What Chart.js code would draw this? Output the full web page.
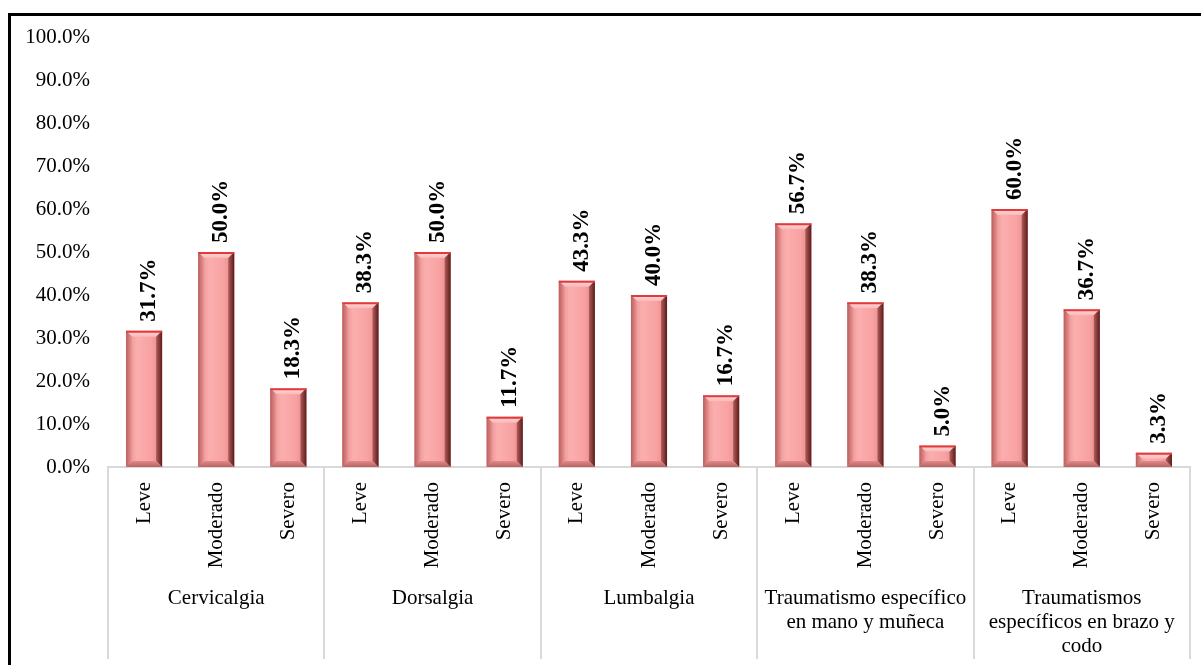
<!DOCTYPE html>
<html>
<head>
<meta charset="utf-8">
<script src="https://cdn.jsdelivr.net/npm/chart.js@4/dist/chart.umd.min.js"></script>
<style>
  html, body { margin: 0; padding: 0; background: #fff; }
  #wrap { position: relative; width: 1201px; height: 665px; }
</style>
</head>
<body>
<div id="wrap"><canvas id="chart"></canvas></div>
<script>
const subLabels = ["Leve", "Moderado", "Severo"];
const groups = [
  ["Cervicalgia"],
  ["Dorsalgia"],
  ["Lumbalgia"],
  ["Traumatismo específico", "en mano y muñeca"],
  ["Traumatismos", "específicos en brazo y", "codo"]
];
const values = [
  31.7, 50.0, 18.3,
  38.3, 50.0, 11.7,
  43.3, 40.0, 16.7,
  56.7, 38.3, 5.0,
  60.0, 36.7, 3.3
];
const yTicks = [0, 10, 20, 30, 40, 50, 60, 70, 80, 90, 100];

const labels = [];
groups.forEach(() => subLabels.forEach(s => labels.push(s)));

const serif = "'Liberation Serif', 'Times New Roman', serif";

// black frame on the top and left edge
const framePlugin = {
  id: "frame",
  beforeDraw(chart) {
    const ctx = chart.ctx;
    ctx.save();
    ctx.strokeStyle = "#000";
    ctx.lineWidth = 3;
    ctx.beginPath();
    ctx.moveTo(9.5, 665);
    ctx.lineTo(9.5, 14.5);
    ctx.lineTo(1201, 14.5);
    ctx.stroke();
    ctx.restore();
  }
};

// bevelled bars + rotated value labels
const bevelPlugin = {
  id: "bevel",
  afterDatasetsDraw(chart) {
    const ctx = chart.ctx;
    const meta = chart.getDatasetMeta(0);
    meta.data.forEach((bar, i) => {
      const w = bar.width;
      const l = bar.x - w / 2, r = bar.x + w / 2;
      const t = bar.y, b = bar.base;
      const bv = Math.min(6, (b - t) / 2);
      ctx.save();

      let g = ctx.createLinearGradient(l, 0, r, 0);
      g.addColorStop(0, "#e38888");
      g.addColorStop(0.3, "#fbaeae");
      g.addColorStop(0.7, "#f8a2a2");
      g.addColorStop(1, "#e08686");
      ctx.fillStyle = g;
      ctx.fillRect(l, t, w, b - t);

      // top face
      g = ctx.createLinearGradient(0, t, 0, t + bv);
      g.addColorStop(0, "#ffdcdc");
      g.addColorStop(1, "#fbb8b8");
      ctx.fillStyle = g;
      ctx.beginPath();
      ctx.moveTo(l, t); ctx.lineTo(r, t); ctx.lineTo(r - bv, t + bv); ctx.lineTo(l + bv, t + bv);
      ctx.closePath(); ctx.fill();

      // left face
      g = ctx.createLinearGradient(l, 0, l + bv, 0);
      g.addColorStop(0, "#b86060");
      g.addColorStop(1, "#ee9696");
      ctx.fillStyle = g;
      ctx.beginPath();
      ctx.moveTo(l, t); ctx.lineTo(l + bv, t + bv); ctx.lineTo(l + bv, b - bv); ctx.lineTo(l, b);
      ctx.closePath(); ctx.fill();

      // right face
      g = ctx.createLinearGradient(r - bv, 0, r, 0);
      g.addColorStop(0, "#b25c5c");
      g.addColorStop(1, "#5a1c1c");
      ctx.fillStyle = g;
      ctx.beginPath();
      ctx.moveTo(r, t); ctx.lineTo(r, b); ctx.lineTo(r - bv, b - bv); ctx.lineTo(r - bv, t + bv);
      ctx.closePath(); ctx.fill();

      // bottom face
      g = ctx.createLinearGradient(0, b - bv, 0, b);
      g.addColorStop(0, "#e28a8a");
      g.addColorStop(1, "#b86262");
      ctx.fillStyle = g;
      ctx.beginPath();
      ctx.moveTo(l, b); ctx.lineTo(l + bv, b - bv); ctx.lineTo(r - bv, b - bv); ctx.lineTo(r, b);
      ctx.closePath(); ctx.fill();

      // red top edge
      ctx.strokeStyle = "#e03a3a";
      ctx.lineWidth = 2;
      ctx.beginPath();
      ctx.moveTo(l, t + 1); ctx.lineTo(r, t + 1);
      ctx.stroke();

      // value label
      ctx.translate(bar.x + 11, t - 9);
      ctx.rotate(-Math.PI / 2);
      ctx.font = "bold 23px " + serif;
      ctx.fillStyle = "#000";
      ctx.textAlign = "left";
      ctx.textBaseline = "alphabetic";
      ctx.fillText(values[i].toFixed(1) + "%", 0, 0);
      ctx.restore();
    });
  }
};

// group separators and group names under the x axis
const groupPlugin = {
  id: "groups",
  afterDraw(chart) {
    const ctx = chart.ctx;
    const x = chart.scales.x;
    const slot = x.getPixelForValue(1) - x.getPixelForValue(0);
    const top = chart.chartArea.bottom;
    ctx.save();
    ctx.strokeStyle = "#d9d9d9";
    ctx.lineWidth = 2;
    for (let g = 0; g <= groups.length; g++) {
      const px = Math.round(x.getPixelForValue(g * subLabels.length) - slot / 2);
      ctx.beginPath();
      ctx.moveTo(px, top);
      ctx.lineTo(px, 659);
      ctx.stroke();
    }
    ctx.font = "21px " + serif;
    ctx.fillStyle = "#000";
    ctx.textAlign = "center";
    ctx.textBaseline = "middle";
    groups.forEach((lines, g) => {
      const cx = (x.getPixelForValue(g * 3) + x.getPixelForValue(g * 3 + 2)) / 2;
      lines.forEach((line, k) => ctx.fillText(line, cx, 598 + k * 24));
    });
    ctx.restore();
  }
};

new Chart(document.getElementById("chart"), {
  type: "bar",
  data: {
    labels: labels,
    datasets: [{
      data: values,
      backgroundColor: "#f8a3a3",
      borderWidth: 0,
      barPercentage: 0.5,
      categoryPercentage: 1.0
    }]
  },
  options: {
    responsive: true,
    maintainAspectRatio: false,
    animation: false,
    layout: { padding: { left: 8, right: 11, top: 37, bottom: 0 } },
    plugins: { legend: { display: false }, tooltip: { enabled: false } },
    scales: {
      x: {
        grid: { display: false, drawTicks: false },
        border: { display: true, color: "#d9d9d9", width: 2 },
        ticks: {
          autoSkip: false,
          minRotation: 90,
          maxRotation: 90,
          padding: 15,
          color: "#000",
          font: { family: serif, size: 21 }
        },
        afterFit(scale) { scale.height = 198; }
      },
      y: {
        min: 0,
        max: 100,
        afterBuildTicks(scale) { scale.ticks = yTicks.map(v => ({ value: v })); },
        grid: { display: false, drawTicks: false },
        border: { display: false },
        ticks: {
          padding: 18,
          color: "#000",
          font: { family: serif, size: 21 },
          callback: v => v.toFixed(1) + "%"
        },
        afterFit(scale) { scale.width = 100; }
      }
    }
  },
  plugins: [framePlugin, bevelPlugin, groupPlugin]
});
</script>
</body>
</html>
